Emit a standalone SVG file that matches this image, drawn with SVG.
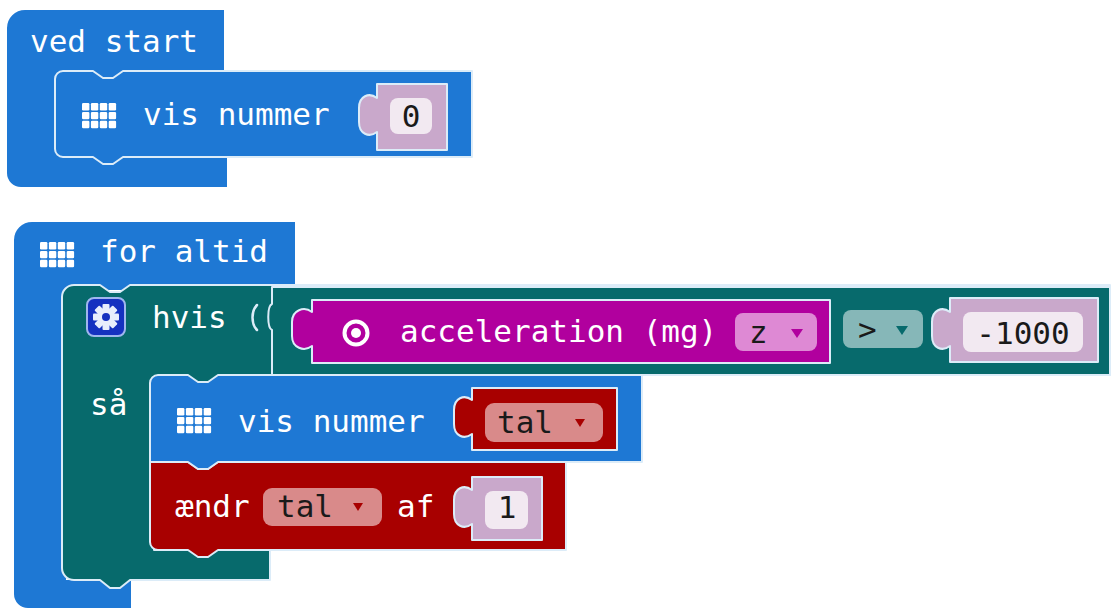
<svg xmlns="http://www.w3.org/2000/svg" width="1114" height="610" viewBox="0 0 1114 610">
<style>
.t{font-family:"DejaVu Sans Mono","Liberation Mono",monospace;font-size:31px;fill:#ffffff}
.d{font-family:"DejaVu Sans Mono","Liberation Mono",monospace;font-size:31px;fill:#1a1a1a}
.blue{fill:#1e78d4}
.teal{fill:#076a6c}
.mag{fill:#b1009e}
.red{fill:#a80000}
.num{fill:#c9a8cb}
.ln{stroke:#dcecf8;stroke-width:2;stroke-linejoin:round}
.pill{fill:#f2e9f1}
.rpill{fill:#d98a8a}
</style>
<defs>
<g id="grid" fill="#ffffff">
<rect x="0" y="0" width="7.4" height="7.4" rx="1.2"/><rect x="8.9" y="0" width="7.4" height="7.4" rx="1.2"/><rect x="17.8" y="0" width="7.4" height="7.4" rx="1.2"/><rect x="26.7" y="0" width="7.4" height="7.4" rx="1.2"/>
<rect x="0" y="8.9" width="7.4" height="7.4" rx="1.2"/><rect x="8.9" y="8.9" width="7.4" height="7.4" rx="1.2"/><rect x="17.8" y="8.9" width="7.4" height="7.4" rx="1.2"/><rect x="26.7" y="8.9" width="7.4" height="7.4" rx="1.2"/>
<rect x="0" y="17.8" width="7.4" height="7.4" rx="1.2"/><rect x="8.9" y="17.8" width="7.4" height="7.4" rx="1.2"/><rect x="17.8" y="17.8" width="7.4" height="7.4" rx="1.2"/><rect x="26.7" y="17.8" width="7.4" height="7.4" rx="1.2"/>
</g>
</defs>

<g id="ved-start">
<path class="blue" d="M7,28 A18,18 0 0 1 25,10 H224 V75 H227 V187 H21 A14,14 0 0 1 7,173 Z"/>
<text class="t" x="30" y="52">ved start</text>
</g>

<g id="vis-nummer-1">
<path class="blue ln" d="M55,79 A8,8 0 0 1 63,71 H93 L103,78 H113 L123,71 H472 V157 H123 L113,164 H103 L93,157 H63 A8,8 0 0 1 55,149 Z"/>
<use href="#grid" x="82" y="103"/>
<text class="t" x="143" y="125">vis nummer</text>
<path class="num ln" d="M377,150 V132 C369,138 359,134 359,122 V108 C359,96 369,92 377,98 V84 H447 V150 Z"/>
<rect class="pill" x="390" y="98" width="42" height="36" rx="8"/>
<text class="d" x="411" y="127" text-anchor="middle">0</text>
</g>

<g id="for-altid">
<path class="blue" d="M14,240 A18,18 0 0 1 32,222 H295 V290 H66 V580 H131 V608 H28 A14,14 0 0 1 14,594 Z"/>
<use href="#grid" x="40" y="242"/>
<text class="t" x="100" y="262">for altid</text>
</g>

<g id="hvis">
<path class="teal ln" d="M62,297 A12,12 0 0 1 74,285 H100 L110,292 H120 L130,285 H1110 V375 H224 V390 H154 V550 H270 V580 H130 L120,588 H110 L100,580 H74 A12,12 0 0 1 62,568 Z"/>
<rect x="87" y="298" width="38" height="38" rx="7" fill="#1531c0" stroke="#9fb6ee" stroke-width="2"/>
<g transform="translate(106,317)" fill="#e8eefc">
<circle r="9"/>
<rect x="-3.5" y="-13" width="7" height="7" rx="1"/>
<rect x="-3.5" y="-13" width="7" height="7" rx="1" transform="rotate(45)"/>
<rect x="-3.5" y="-13" width="7" height="7" rx="1" transform="rotate(90)"/>
<rect x="-3.5" y="-13" width="7" height="7" rx="1" transform="rotate(135)"/>
<rect x="-3.5" y="-13" width="7" height="7" rx="1" transform="rotate(180)"/>
<rect x="-3.5" y="-13" width="7" height="7" rx="1" transform="rotate(225)"/>
<rect x="-3.5" y="-13" width="7" height="7" rx="1" transform="rotate(270)"/>
<rect x="-3.5" y="-13" width="7" height="7" rx="1" transform="rotate(315)"/>
<circle r="4" fill="#1531c0"/>
</g>
<text class="t" x="152" y="328">hvis</text>
<path d="M257,305 C251,311 251,324 257,330" fill="none" stroke="#dcecf8" stroke-width="2.5" stroke-linecap="round"/>
<text class="t" x="90" y="415">så</text>
</g>

<g id="sammenlign">
<path class="teal ln" d="M272,287 H1110 V375 H272 V330 C267,328 267,306 272,304 Z"/>
<rect x="843" y="310" width="80" height="38" rx="8" fill="#86b7b8"/>
<text class="d" x="858" y="340">&gt;</text>
<polygon points="896,326 908,326 902,335" fill="#076a6c"/>
<path class="num ln" d="M950,362 V346 C942,352 932,348 932,336 V322 C932,310 942,306 950,312 V298 H1098 V362 Z"/>
<rect class="pill" x="963" y="312" width="120" height="40" rx="8"/>
<text class="d" x="1023" y="344" text-anchor="middle">-1000</text>
</g>

<g id="acceleration">
<path class="mag ln" d="M312,363 V346 C304,352 292,348 292,336 V322 C292,310 304,306 312,312 V300 H830 V363 Z"/>
<circle cx="356" cy="333" r="11.5" fill="none" stroke="#ffffff" stroke-width="4"/>
<circle cx="356" cy="333" r="5" fill="#ffffff"/>
<text class="t" x="400" y="342">acceleration (mg)</text>
<rect x="735" y="313" width="82" height="38" rx="8" fill="#de89d4"/>
<text class="d" x="749" y="343">z</text>
<polygon points="791,329 803,329 797,338" fill="#b1009e"/>
</g>

<g id="aendr">
<path class="red ln" d="M150,462 H188 L198,469 H208 L218,462 H566 V550 H218 L208,557 H198 L188,550 H158 A8,8 0 0 1 150,542 Z"/>
<text class="t" x="175" y="517">ændr</text>
<rect class="rpill" x="263" y="488" width="119" height="38" rx="9"/>
<text class="d" x="277" y="517">tal</text>
<polygon points="353,503 363,503 358,511" fill="#a80000"/>
<text class="t" x="397" y="517">af</text>
<path class="num ln" d="M472,540 V524 C464,530 454,526 454,514 V500 C454,488 464,484 472,490 V477 H542 V540 Z"/>
<rect class="pill" x="485" y="491" width="43" height="38" rx="8"/>
<text class="d" x="507" y="518" text-anchor="middle">1</text>
</g>

<g id="vis-nummer-2">
<path class="blue ln" d="M150,383 A8,8 0 0 1 158,375 H188 L198,382 H208 L218,375 H642 V462 H218 L208,469 H198 L188,462 H150 Z"/>
<use href="#grid" x="177" y="408"/>
<text class="t" x="238" y="432">vis nummer</text>
<path class="red ln" d="M472,450 V434 C464,440 454,436 454,424 V410 C454,398 464,394 472,400 V388 H617 V450 Z"/>
<rect class="rpill" x="485" y="403" width="118" height="39" rx="9"/>
<text class="d" x="497" y="433">tal</text>
<polygon points="575,419 585,419 580,427" fill="#a80000"/>
</g>

<g id="connectors"></g>
</svg>
